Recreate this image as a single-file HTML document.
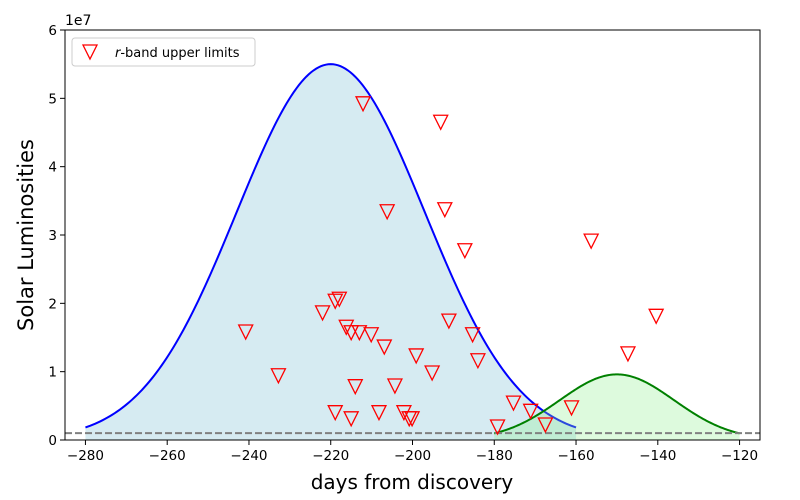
<!DOCTYPE html>
<html><head><meta charset="utf-8"><style>
html,body{margin:0;padding:0;background:#fff;}
svg{display:block;font-family:"DejaVu Sans","Liberation Sans",sans-serif;}
</style></head><body>
<svg id="chart" width="800" height="500" viewBox="0 0 800 500"></svg>
<script>
const xTicks=[-280,-260,-240,-220,-200,-180,-160,-140,-120];
const yTicks=[0,1,2,3,4,5,6];
const limitDays=[-240.8,-232.8,-222.0,-218.9,-217.9,-218.9,-216.2,-215.0,-215.0,-214.0,-213.0,-212.1,-210.1,-208.2,-206.9,-206.2,-204.3,-202.1,-200.8,-200.1,-199.1,-195.2,-193.1,-192.1,-191.1,-187.2,-185.3,-184.0,-179.2,-175.3,-171.1,-167.5,-161.1,-156.3,-147.3,-140.4];
const limitLum=[1.58,0.94,1.86,2.03,2.06,0.40,1.65,1.57,0.31,0.78,1.57,4.92,1.54,0.40,1.36,3.34,0.79,0.40,0.31,0.31,1.23,0.98,4.65,3.37,1.74,2.77,1.54,1.16,0.19,0.54,0.42,0.22,0.47,2.91,1.26,1.81];
const blueModel=[5.5,-220,23,-280,-160]; // amp(1e7), center, sigma, start, end
const greenModel=[0.96,-150,14,-180,-120];
const baseline=[0.1];

const L=65,R=760,T=30,B=440,X0=-285,X1=-115,Y0=0,Y1=6;
const sx=v=>L+(v-X0)/(X1-X0)*(R-L);
const sy=v=>B-(v-Y0)/(Y1-Y0)*(B-T);
const svg=document.getElementById('chart');
const NS='http://www.w3.org/2000/svg';
function mk(tag,attrs,parent){const e=document.createElementNS(NS,tag);for(const k in attrs)e.setAttribute(k,attrs[k]);(parent||svg).appendChild(e);return e;}

function gauss(m){const pts=[];for(let i=0;i<=200;i++){const x=m[3]+(m[4]-m[3])*i/200;pts.push([x,m[0]*Math.exp(-((x-m[1])**2)/(2*m[2]*m[2]))]);}return pts;}
function drawModel(m,fill,stroke,name){
  const p=gauss(m);
  const d='M'+p.map(q=>sx(q[0]).toFixed(2)+','+sy(q[1]).toFixed(2)).join('L');
  const f=mk('path',{d:d+'L'+sx(m[4])+','+sy(0)+'L'+sx(m[3])+','+sy(0)+'Z',fill:fill,stroke:'none'});
  
  
  const l=mk('path',{d:d,fill:'none',stroke:stroke,'stroke-width':2});
  
  
}
drawModel(blueModel,'rgba(173,216,230,0.5)','#0000ff','blue-model');
drawModel(greenModel,'rgba(144,238,144,0.3)','#008000','green-model');

const bl=mk('line',{x1:L,x2:R,y1:sy(baseline[0]),y2:sy(baseline[0]),stroke:'#808080','stroke-width':2,'stroke-dasharray':'7,3'});



for(let i=0;i<limitDays.length;i++){
  const cx=sx(limitDays[i]),cy=sy(limitLum[i]);
  const t=mk('polygon',{points:`${cx-7},${cy-7} ${cx+7},${cy-7} ${cx},${cy+7}`,fill:'none',stroke:'#ff0000','stroke-width':1.3});
  
  
}

const fr=mk('rect',{x:L,y:T,width:R-L,height:B-T,fill:'none',stroke:'#000','stroke-width':1});



xTicks.forEach(v=>{
  const x=sx(v);
  const tk=mk('line',{x1:x,x2:x,y1:B,y2:B+5,stroke:'#000'});
  
  
  const tx=mk('text',{x:x,y:B+20,'text-anchor':'middle','font-size':13.5});
  tx.textContent='\u2212'+Math.abs(v);
  
  
});
yTicks.forEach(v=>{
  const y=sy(v);
  const tk=mk('line',{x1:L-5,x2:L,y1:y,y2:y,stroke:'#000'});
  
  
  const tx=mk('text',{x:L-8,y:y+5,'text-anchor':'end','font-size':13.5});
  tx.textContent=String(v);
  
  
});
</script>
<svg style="position:absolute;left:0;top:0" width="800" height="500">
<text x="65" y="25" font-size="14" font-family="DejaVu Sans, Liberation Sans, sans-serif">1e7</text>
<text x="412" y="489" text-anchor="middle" font-size="20" font-family="DejaVu Sans, Liberation Sans, sans-serif">days from discovery</text>
<text transform="translate(33,235) rotate(-90)" text-anchor="middle" font-size="21" font-family="DejaVu Sans, Liberation Sans, sans-serif">Solar Luminosities</text>
<g>
<rect x="72" y="38" width="183" height="28" rx="3" fill="rgba(255,255,255,0.8)" stroke="#ccc"/>
<polygon points="83,45 97,45 90,59" fill="none" stroke="#ff0000" stroke-width="1.3"/>
<text x="115" y="57" font-size="13" font-family="DejaVu Sans, Liberation Sans, sans-serif"><tspan font-style="italic">r</tspan>-band upper limits</text>
</g>
</svg>
</body></html>
